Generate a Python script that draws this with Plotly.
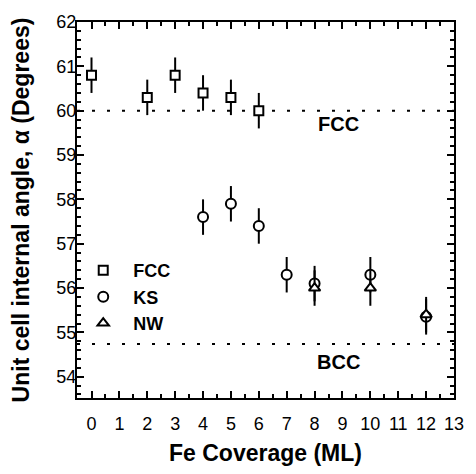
import plotly.graph_objects as go

# Data
fcc_x = [0, 2, 3, 4, 5, 6]
fcc_y = [60.8, 60.3, 60.8, 60.4, 60.3, 60.0]
fcc_err = [0.4, 0.4, 0.4, 0.4, 0.4, 0.4]

ks_x = [4, 5, 6, 7, 8, 10, 12]
ks_y = [57.6, 57.9, 57.4, 56.3, 56.1, 56.3, 55.35]
ks_err = [0.4, 0.4, 0.4, 0.4, 0.4, 0.4, 0.4]

nw_x = [8, 10, 12]
nw_y = [56.0, 56.0, 55.4]
nw_err = [0.4, 0.4, 0.4]

FCC_ANGLE = 60.0
BCC_ANGLE = 54.74

x_ticks = list(range(0, 14))
y_ticks = list(range(54, 63))

FONT = "Liberation Sans, Arial, sans-serif"

fig = go.Figure()

def add(x, y, err, symbol, name, size):
    fig.add_trace(go.Scatter(
        x=x, y=y, mode="markers", name=name,
        marker=dict(symbol=symbol, size=size, color="white",
                    line=dict(color="black", width=2)),
        error_y=dict(type="data", array=err, visible=True, width=0,
                     thickness=2, color="black"),
    ))

add(fcc_x, fcc_y, fcc_err, "square", "<b>FCC</b>", 9)
add(ks_x, ks_y, ks_err, "circle", "<b>KS</b>", 10)
add(nw_x, nw_y, nw_err, "triangle-up", "<b>NW</b>", 10)

for yv in (FCC_ANGLE, BCC_ANGLE):
    fig.add_shape(type="line", xref="paper", yref="y", x0=0, x1=1, y0=yv, y1=yv,
                  line=dict(color="black", width=2, dash="3px,12px"), layer="below")

fig.add_annotation(x=8.85, y=FCC_ANGLE - 0.3, text="<b>FCC</b>", showarrow=False,
                   font=dict(size=20, family=FONT, color="black"))
fig.add_annotation(x=8.85, y=BCC_ANGLE - 0.4, text="<b>BCC</b>", showarrow=False,
                   font=dict(size=20, family=FONT, color="black"))

axis_common = dict(
    showline=True, linecolor="black", linewidth=2, mirror="allticks",
    ticks="inside", ticklen=7, tickwidth=2, tickcolor="black",
    showgrid=False, zeroline=False,
    tickfont=dict(size=18, family=FONT, color="black"),
)

fig.update_xaxes(
    range=[-0.52, 13.0], tickvals=x_ticks, ticktext=[str(v) for v in x_ticks],
    minor=dict(ticks="inside", ticklen=4, tickwidth=2, tickcolor="black", dtick=0.5, tick0=0),
    ticklabelstandoff=8,
    title=dict(text="<b>Fe Coverage (ML)</b>", font=dict(size=23, family=FONT, color="black"),
               standoff=12),
    **axis_common,
)
fig.update_yaxes(
    range=[53.52, 62.0], tickvals=y_ticks, ticktext=[str(v) for v in y_ticks],
    minor=dict(ticks="inside", ticklen=4, tickwidth=2, tickcolor="black", dtick=0.2, tick0=54),
    ticklabelstandoff=-5,
    title=dict(text="<b>Unit cell internal angle, α (Degrees)</b>",
               font=dict(size=23, family=FONT, color="black"), standoff=20),
    **axis_common,
)

fig.update_layout(
    width=476, height=474,
    margin=dict(l=77, r=13, t=15, b=74),
    plot_bgcolor="white", paper_bgcolor="white",
    showlegend=True,
    legend=dict(x=-0.01, y=0.388, xanchor="left", yanchor="top",
                bgcolor="rgba(0,0,0,0)", borderwidth=0,
                font=dict(size=18, family=FONT, color="black"),
                itemwidth=50, tracegroupgap=0),
    font=dict(family=FONT, color="black"),
)

fig.write_html("out.html")
